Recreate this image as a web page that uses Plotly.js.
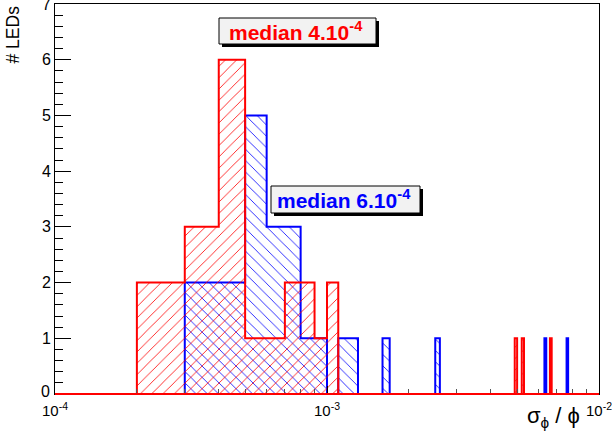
<!DOCTYPE html>
<html>
<head>
<meta charset="utf-8">
<script src="https://cdn.plot.ly/plotly-3.0.1.min.js"></script>
<style>html,body{margin:0;padding:0;background:#fff;}#chart{width:612px;height:444px;}</style>
</head>
<body>
<div id="chart"></div>
<script>
// ---- data (bin lower edges, width 1e-4, and counts) ----
const binWidth = 1e-4;
const redLow    = [2e-4, 3e-4, 4e-4, 5e-4, 6e-4, 7e-4, 8e-4, 9e-4, 1.0e-3, 4.9e-3, 5.2e-3, 6.6e-3];
const redCounts = [2,    3,    6,    1,    1,    2,    2,    1,    2,      1,      1,      1];
const blueLow    = [3e-4, 4e-4, 5e-4, 6e-4, 7e-4, 8e-4, 9e-4, 1.1e-3, 1.2e-3, 1.6e-3, 2.5e-3, 6.3e-3, 7.6e-3];
const blueCounts = [2,    2,    5,    3,    3,    1,    1,    1,      1,      1,      1,      1,      1];
const xMin = 1e-4, xMax = 1e-2;
const xTickVals = [1e-4, 1e-3, 1e-2];
const xTickText = ['10<sup>-4</sup>', '10<sup>-3</sup>', '10<sup>-2</sup>'];
const yTickVals = [1, 2, 3, 4, 5, 6, 7];
const yTickText = ['1', '2', '3', '4', '5', '6', '7'];
const yZeroLabel = '0';
const redLabel  = 'median 4.10<sup>-4</sup>';
const blueLabel = 'median 6.10<sup>-4</sup>';

// build a histogram outline (step polygon) from bins
function outline(lows, counts) {
  const xs = [xMin], ys = [0];
  let prevEnd = null;
  for (let i = 0; i < lows.length; i++) {
    const l = lows[i], h = l + binWidth, c = counts[i];
    if (prevEnd !== null && Math.abs(prevEnd - l) < 1e-9) {
      xs.push(l); ys.push(c);
    } else {
      if (prevEnd !== null) { xs.push(prevEnd); ys.push(0); }
      xs.push(l); ys.push(0);
      xs.push(l); ys.push(c);
    }
    xs.push(h); ys.push(c);
    prevEnd = h;
  }
  xs.push(prevEnd); ys.push(0);
  xs.push(xMax); ys.push(0);
  return {xs, ys};
}

const red = outline(redLow, redCounts);
const blue = outline(blueLow, blueCounts);

const blueTrace = {
  type: 'scatter', mode: 'lines', x: blue.xs, y: blue.ys,
  line: {color: '#0000ff', width: 2}, fill: 'toself', fillcolor: 'rgba(0,0,0,0)',
  fillpattern: {shape: '\\', fgcolor: '#0000ff', bgcolor: 'rgba(0,0,0,0)', size: 8, solidity: 0.1},
  hoverinfo: 'skip', showlegend: false
};
const redTrace = {
  type: 'scatter', mode: 'lines', x: red.xs, y: red.ys,
  line: {color: '#ff0000', width: 2}, fill: 'toself', fillcolor: 'rgba(0,0,0,0)',
  fillpattern: {shape: '/', fgcolor: '#ff0000', bgcolor: 'rgba(0,0,0,0)', size: 8, solidity: 0.1},
  hoverinfo: 'skip', showlegend: false
};

// layout helpers (pixel -> paper)
const L = 55, R = 599, T = 4, B = 394;
const px = x => (x - L) / (R - L);
const py = y => (B - y) / (B - T);

function box(x0, y0, x1, y1) {
  return [
    {type: 'rect', xref: 'paper', yref: 'paper', x0: px(x0 + 3), x1: px(x1 + 3), y0: py(y1 + 3), y1: py(y0 + 3),
     fillcolor: '#000', line: {width: 0}, layer: 'above'},
    {type: 'rect', xref: 'paper', yref: 'paper', x0: px(x0), x1: px(x1), y0: py(y1), y1: py(y0),
     fillcolor: '#f2f2f2', line: {color: '#000', width: 1}, layer: 'above'}
  ];
}

const shapes = [].concat(
  box(219, 18, 376, 44),
  box(271, 186, 420, 213),
  [{type: 'line', xref: 'paper', yref: 'paper', x0: 0, x1: 1, y0: 0, y1: 0,
    line: {color: '#ff0000', width: 2}, layer: 'above'}]
);

const font = 'Liberation Sans, Arial, sans-serif';
const annotations = [
  {xref: 'paper', yref: 'paper', x: px(296), y: py(31), xanchor: 'center', yanchor: 'middle',
   text: '<b>' + redLabel + '</b>', showarrow: false, font: {family: font, size: 21, color: '#ff0000'}},
  {xref: 'paper', yref: 'paper', x: px(344), y: py(199), xanchor: 'center', yanchor: 'middle',
   text: '<b>' + blueLabel + '</b>', showarrow: false, font: {family: font, size: 21, color: '#0000ff'}},
  {xref: 'paper', yref: 'paper', x: px(12.5), y: py(4), xanchor: 'center', yanchor: 'top', textangle: -90,
   text: '# LEDs', showarrow: false, font: {family: font, size: 17.5, color: '#000'}},
  {xref: 'paper', yref: 'paper', x: px(582), y: py(417), xanchor: 'right', yanchor: 'middle',
   text: 'σ<sub>ϕ</sub> / ϕ', showarrow: false, font: {family: font, size: 22, color: '#000'}},
  {xref: 'paper', yref: 'paper', x: px(52), y: py(391), xanchor: 'right', yanchor: 'middle',
   text: yZeroLabel, showarrow: false, font: {family: font, size: 16, color: '#000'}}
];

const minorX = [];
for (let d = -4; d < -2; d++) for (let k = 2; k <= 9; k++) minorX.push(k * Math.pow(10, d));

const layout = {
  width: 612, height: 444,
  margin: {l: L, r: 612 - R, t: T, b: 444 - B, pad: 0},
  paper_bgcolor: '#fff', plot_bgcolor: '#fff',
  showlegend: false,
  xaxis: {
    type: 'log', range: [-4, -2], showgrid: false, zeroline: false,
    showline: true, linecolor: '#000', linewidth: 1, mirror: true,
    tickmode: 'array', tickvals: xTickVals, ticktext: xTickText,
    ticks: 'inside', ticklen: 8, tickcolor: '#000', tickwidth: 1,
    ticklabeloverflow: 'allow', ticklabelstandoff: 3,
    minor: {tickmode: 'array', tickvals: minorX, ticks: 'inside', ticklen: 5, tickcolor: '#555', showgrid: false},
    tickfont: {family: font, size: 15, color: '#000'}
  },
  yaxis: {
    range: [0, 7], showgrid: false, zeroline: false,
    showline: true, linecolor: '#000', linewidth: 1, mirror: true,
    tickmode: 'array', tickvals: yTickVals, ticktext: yTickText,
    ticks: 'inside', ticklen: 16, tickcolor: '#000', tickwidth: 1,
    ticklabeloverflow: 'allow',
    minor: {dtick: 0.2, tick0: 0, ticks: 'inside', ticklen: 8, tickcolor: '#000', showgrid: false},
    tickfont: {family: font, size: 16, color: '#000'}
  },
  shapes: shapes,
  annotations: annotations
};

Plotly.newPlot('chart', [blueTrace, redTrace], layout, {staticPlot: true, displayModeBar: false});
</script>
</body>
</html>
